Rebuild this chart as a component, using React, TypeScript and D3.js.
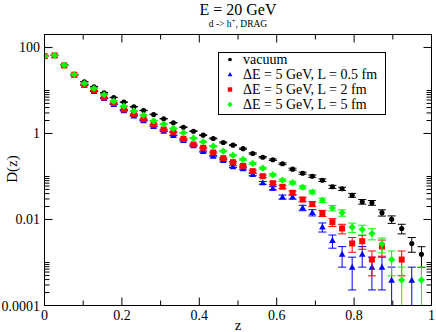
import * as d3 from "d3";

// z bin positions (k/39)
const zValues = [
  0, 0.026, 0.051, 0.077, 0.103, 0.128, 0.154, 0.179, 0.205, 0.231, 0.256, 0.282, 0.308,
  0.333, 0.359, 0.385, 0.41, 0.436, 0.462, 0.487, 0.513, 0.538, 0.564, 0.59, 0.615, 0.641,
  0.667, 0.692, 0.718, 0.744, 0.769, 0.795, 0.821, 0.846, 0.872, 0.897, 0.923, 0.949, 0.974,
];

const vacuum = [
  62.8, 65.2, 39, 23.6, 15.9, 12.2, 8.84, 6.87, 5.35, 4.18, 3.43, 2.77, 2.2, 1.77, 1.4, 1.13,
  0.913, 0.765, 0.618, 0.535, 0.443, 0.343, 0.281, 0.245, 0.197, 0.148, 0.119, 0.1016, 0.082,
  0.0576, 0.0518, 0.0366, 0.0259, 0.0245, 0.0144, 0.0101, 0.00618, 0.00277, 0.00155,
];
const vacuumErr = [
  0.156, 0.159, 0.123, 0.096, 0.079, 0.069, 0.059, 0.052, 0.046, 0.04, 0.037, 0.033, 0.029,
  0.026, 0.023, 0.021, 0.019, 0.017, 0.016, 0.014, 0.013, 0.012, 0.0105, 0.0098, 0.0088,
  0.0076, 0.0068, 0.0063, 0.0057, 0.0047, 0.0045, 0.0038, 0.0032, 0.0031, 0.0024, 0.002,
  0.00155, 0.00104, 0.00078,
];

const lossL05 = [
  62.8, 65.2, 38, 23, 13.3, 9.48, 6.51, 4.73, 3.37, 2.55, 1.97, 1.45, 1.13, 0.899, 0.687,
  0.518, 0.381, 0.297, 0.236, 0.169, 0.151, 0.111, 0.0714, 0.0534, 0.0334, 0.0334, 0.0187,
  0.0145, 0.0067, 0.00325, 0.00156, 0.00078, 0.00156, 0.00078, 0.00078, 0.00039, null,
  0.00039, null,
];
const lossL05Err = [
  0.156, 0.159, 0.122, 0.095, 0.072, 0.061, 0.05, 0.043, 0.036, 0.032, 0.028, 0.024, 0.021,
  0.019, 0.016, 0.014, 0.012, 0.011, 0.0096, 0.0081, 0.0077, 0.0066, 0.0053, 0.0046, 0.0036,
  0.0036, 0.0027, 0.0024, 0.0016, 0.0011, 0.00078, 0.00055, 0.00078, 0.00055, 0.00055,
  0.00039, 0, 0.00039, 0,
];

const lossL2 = [
  62.8, 65.2, 38, 23.2, 13.8, 10, 6.87, 5.07, 3.61, 2.8, 2.15, 1.62, 1.24, 1.07, 0.753, 0.555,
  0.465, 0.361, 0.267, 0.215, 0.177, 0.133, 0.1016, 0.0699, 0.0576, 0.0418, 0.0292, 0.0229,
  0.014, 0.00865, 0.00618, 0.00277, 0.00313, 0.00117, 0.00236, null, 0.00117, null, null,
];
const lossL2Err = [
  0.156, 0.159, 0.122, 0.095, 0.073, 0.062, 0.052, 0.044, 0.038, 0.033, 0.029, 0.025, 0.022,
  0.02, 0.017, 0.015, 0.013, 0.012, 0.01, 0.0092, 0.0083, 0.0072, 0.0063, 0.0052, 0.0047,
  0.004, 0.0034, 0.003, 0.0023, 0.0018, 0.00155, 0.00104, 0.0011, 0.00068, 0.00096, 0,
  0.00068, 0, 0,
];

const lossL5 = [
  62.8, 65.2, 38.5, 23.5, 14.5, 11.1, 7.94, 5.64, 4.31, 3.34, 2.66, 1.97, 1.65, 1.31, 1.04,
  0.778, 0.641, 0.507, 0.388, 0.311, 0.249, 0.201, 0.156, 0.1095, 0.0816, 0.0718, 0.0561,
  0.0436, 0.028, 0.0185, 0.0143, 0.00662, 0.00585, 0.00472, 0.00269, 0.00117, 0.00039, null,
  0.00039,
];
const lossL5Err = [
  0.156, 0.159, 0.123, 0.096, 0.075, 0.066, 0.056, 0.047, 0.041, 0.036, 0.032, 0.028, 0.025,
  0.023, 0.02, 0.017, 0.016, 0.014, 0.012, 0.011, 0.0099, 0.0089, 0.0078, 0.0065, 0.0056,
  0.0053, 0.0047, 0.0041, 0.0033, 0.0027, 0.0024, 0.0016, 0.0015, 0.00136, 0.00102, 0.00068,
  0.00039, 0, 0.00039,
];

const seriesNames = [
  "vacuum",
  "ΔE = 5 GeV, L = 0.5 fm",
  "ΔE = 5 GeV, L = 2 fm",
  "ΔE = 5 GeV, L = 5 fm",
];

const xTicks = [0, 0.2, 0.4, 0.6, 0.8, 1];
const xTickLabels = ["0", "0.2", "0.4", "0.6", "0.8", "1"];
const xMinorTicks = [0.1, 0.3, 0.5, 0.7, 0.9];
const yTicks = [1e-4, 1e-2, 1, 100];
const yTickLabels = ["0.0001", "0.01", "1", "100"];
const yMinorFactors = [2, 3, 4, 5, 6, 7, 8, 9, 10];

const width = 436;
const height = 332;
const left = 44.5;
const right = 431.5;
const top = 34.5;
const bottom = 305.5;
const font = "'Liberation Serif', 'Times New Roman', serif";

const x = d3.scaleLinear().domain([0, 1]).range([left, right]);
const y = d3.scaleLog().domain([1e-4, 200]).range([bottom, top]);

type Shape = "circle" | "triangle" | "square" | "diamond";

function marker(shape: Shape, cx: number, cy: number, s: number, color: string, key?: string) {
  if (shape === "circle") return <circle key={key} cx={cx} cy={cy} r={s * 0.85} fill={color} />;
  if (shape === "square")
    return <rect key={key} x={cx - s} y={cy - s} width={2 * s} height={2 * s} fill={color} />;
  if (shape === "triangle")
    return (
      <path
        key={key}
        d={`M${cx},${cy - s * 1.15}L${cx + s * 1.1},${cy + s * 0.85}L${cx - s * 1.1},${cy + s * 0.85}Z`}
        fill={color}
      />
    );
  return (
    <path
      key={key}
      d={`M${cx},${cy - s * 1.2}L${cx + s * 1.2},${cy}L${cx},${cy + s * 1.2}L${cx - s * 1.2},${cy}Z`}
      fill={color}
    />
  );
}

const series = [
  { name: seriesNames[0], values: vacuum, errors: vacuumErr, color: "#000000", shape: "circle" as Shape },
  { name: seriesNames[1], values: lossL05, errors: lossL05Err, color: "#0000ff", shape: "triangle" as Shape },
  { name: seriesNames[2], values: lossL2, errors: lossL2Err, color: "#ff0000", shape: "square" as Shape },
  { name: seriesNames[3], values: lossL5, errors: lossL5Err, color: "#00ff00", shape: "diamond" as Shape },
];

export default function App() {
  const yMinor: number[] = [];
  yTicks.forEach((t) =>
    yMinorFactors.forEach((f) => {
      if (t * f < 200) yMinor.push(t * f);
    })
  );

  return (
    <svg
      width={width}
      height={height}
      style={{ position: "absolute", left: 0, top: 0, background: "#fff" }}
      fontFamily={font}
    >
      <defs>
        <clipPath id="plot">
          <rect x={left} y={top} width={right - left} height={bottom - top} />
        </clipPath>
      </defs>
      <rect width={width} height={height} fill="#fff" />

      {/* title */}
      <text x={238} y={14.5} fontSize={16} textAnchor="middle">
        E = 20 GeV
      </text>
      <text x={238} y={27} fontSize={9.5} textAnchor="middle">
        d -&gt; h
        <tspan dy={-4} fontSize={7}>+</tspan>
        <tspan dy={4}>, DRAG</tspan>
      </text>

      {/* data */}
      <g clipPath="url(#plot)">
        {series.map((s) => (
          <g key={s.name}>
            {s.values.map((v, i) => {
              if (v == null) return null;
              const e = s.errors[i];
              const cx = x(zValues[i]);
              const yHi = y(v + e);
              const lowVal = v - e;
              const yLo = lowVal > 1e-6 ? y(lowVal) : bottom + 20;
              return (
                <g key={i} stroke={s.color} strokeWidth={1}>
                  <line x1={cx} x2={cx} y1={yHi} y2={yLo} />
                  <line x1={cx - 4} x2={cx + 4} y1={yHi} y2={yHi} />
                  {lowVal > 1e-6 && <line x1={cx - 4} x2={cx + 4} y1={yLo} y2={yLo} />}
                </g>
              );
            })}
            {s.values.map((v, i) =>
              v == null ? null : marker(s.shape, x(zValues[i]), y(v), 3, s.color, `m${i}`)
            )}
          </g>
        ))}
      </g>

      {/* frame and ticks */}
      <g stroke="#000" strokeWidth={1} fill="none">
        <rect x={left} y={top} width={right - left} height={bottom - top} />
        {xTicks.map((t) => (
          <g key={`xt${t}`}>
            <line x1={x(t)} x2={x(t)} y1={bottom} y2={bottom - 8} />
            <line x1={x(t)} x2={x(t)} y1={top} y2={top + 8} />
          </g>
        ))}
        {xMinorTicks.map((t) => (
          <g key={`xm${t}`}>
            <line x1={x(t)} x2={x(t)} y1={bottom} y2={bottom - 5} />
            <line x1={x(t)} x2={x(t)} y1={top} y2={top + 5} />
          </g>
        ))}
        {yTicks.map((t) => (
          <g key={`yt${t}`}>
            <line x1={left} x2={left + 8} y1={y(t)} y2={y(t)} />
            <line x1={right} x2={right - 8} y1={y(t)} y2={y(t)} />
          </g>
        ))}
        {yMinor.map((t) => (
          <g key={`ym${t}`}>
            <line x1={left} x2={left + 5} y1={y(t)} y2={y(t)} />
            <line x1={right} x2={right - 5} y1={y(t)} y2={y(t)} />
          </g>
        ))}
      </g>

      {/* tick labels */}
      <g fontSize={14} fill="#000">
        {xTicks.map((t, i) => (
          <text key={`xl${t}`} x={x(t)} y={320} textAnchor="middle">
            {xTickLabels[i]}
          </text>
        ))}
        {yTicks.map((t, i) => (
          <text key={`yl${t}`} x={40} y={y(t) + 5} textAnchor="end">
            {yTickLabels[i]}
          </text>
        ))}
      </g>

      {/* axis labels */}
      <text x={238} y={330} fontSize={15} textAnchor="middle">
        z
      </text>
      <text transform="translate(17,169) rotate(-90)" fontSize={15} textAnchor="middle">
        D(z)
      </text>

      {/* legend */}
      <rect x={218.5} y={52.5} width={167} height={62} fill="#fff" stroke="#000" strokeWidth={1} />
      {series.map((s, i) => (
        <g key={`lg${i}`}>
          {marker(s.shape, 230, 59.5 + i * 15, 2.2, s.color)}
          <text x={243} y={64 + i * 15} fontSize={14}>
            {s.name}
          </text>
        </g>
      ))}
    </svg>
  );
}
